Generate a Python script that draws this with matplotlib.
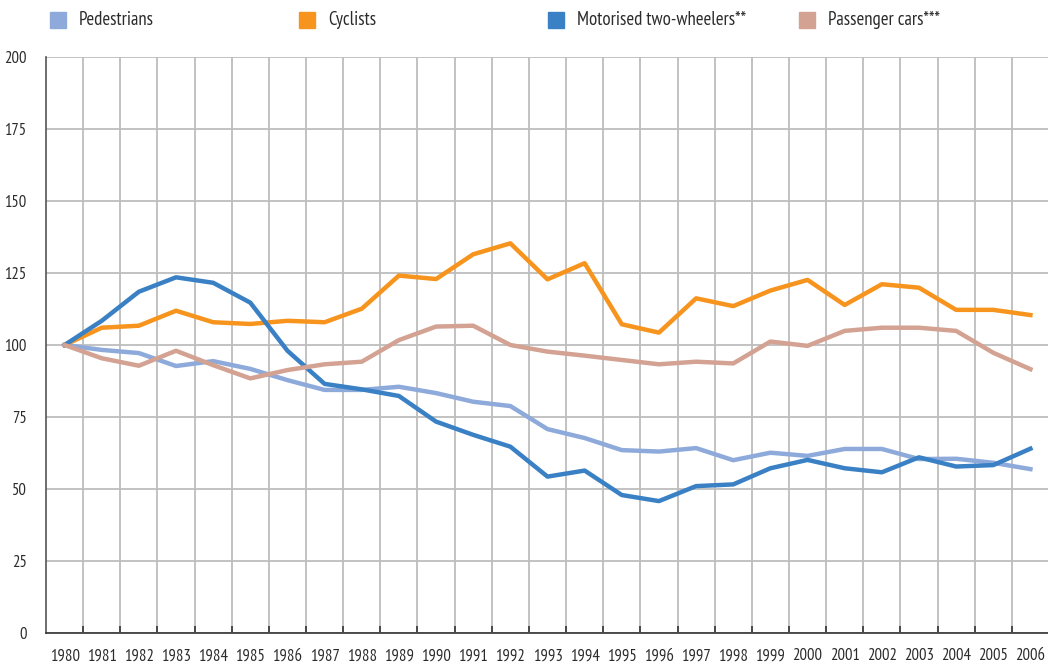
import matplotlib
matplotlib.use("Agg")
import matplotlib.pyplot as plt
from matplotlib.patches import Rectangle
import numpy as np

# -----------------------
# Data (index, 1980 = 100)
# -----------------------
years = [str(y) for y in range(1980, 2007)]

pedestrians = [100, 98.3, 97.2, 92.7, 94.4, 91.7, 87.8, 84.4, 84.4, 85.5,
               83.3, 80.3, 78.8, 70.8, 67.7, 63.5, 63.0, 64.2, 60.0, 62.6,
               61.5, 63.9, 63.9, 60.4, 60.5, 59.1, 56.9]
cyclists = [100, 106.0, 106.7, 111.9, 107.9, 107.3, 108.4, 107.9, 112.6, 124.1,
            122.9, 131.5, 135.3, 122.8, 128.4, 107.2, 104.3, 116.2, 113.5, 118.9,
            122.6, 113.9, 121.1, 119.9, 112.2, 112.2, 110.4]
motorised = [100, 108.4, 118.5, 123.5, 121.6, 114.7, 98.0, 86.5, 84.6, 82.3,
             73.4, 68.8, 64.7, 54.3, 56.4, 47.9, 45.8, 51.0, 51.6, 57.2,
             60.1, 57.2, 55.8, 61.0, 57.8, 58.3, 64.0]
cars = [100, 95.4, 92.8, 98.0, 93.0, 88.4, 91.3, 93.3, 94.2, 101.7,
        106.4, 106.7, 100.0, 97.7, 96.3, 94.8, 93.3, 94.2, 93.6, 101.2,
        99.7, 104.9, 106.0, 106.0, 104.9, 97.3, 91.6]

labels = ["Pedestrians", "Cyclists", "Motorised two-wheelers**", "Passenger cars***"]
series = [pedestrians, cyclists, motorised, cars]

# -----------------------
# Style
# -----------------------
COLORS = ["#8EAADB", "#F7941D", "#3A80C4", "#D3A292"]
GRID = "#bdbdbd"
TEXT = "#2b2b2b"
plt.rcParams["font.family"] = ["PT Sans Narrow", "Liberation Sans Narrow", "DejaVu Sans"]
plt.rcParams["font.stretch"] = "condensed"

W, H = 1048, 669
fig = plt.figure(figsize=(W / 100, H / 100), dpi=100)
ax = fig.add_axes([46 / W, (H - 633) / H, 1003 / W, (633 - 57) / H])

x = np.arange(len(years))
for vals, col, lab in zip(series, COLORS, labels):
    ax.plot(x, vals, color=col, lw=3.2, label=lab, zorder=3)

ax.set_xlim(-0.5, len(years) - 0.5)
ax.set_ylim(0, 200)
ax.set_yticks(np.arange(0, 201, 25))
ax.set_xticks(x)
ax.set_xticklabels(years)
ax.set_xticks(x[:-1] + 0.5, minor=True)

ax.grid(axis="y", color=GRID, lw=1.3, zorder=0)
for gx in x[:-1] + 0.5:
    ax.axvline(gx, color=GRID, lw=1.3, zorder=0)

for s in ["top", "right"]:
    ax.spines[s].set_visible(False)
ax.spines["left"].set_color("#555555")
ax.spines["bottom"].set_color("#333333")
ax.spines["left"].set_linewidth(1.2)
ax.spines["bottom"].set_linewidth(1.2)

ax.tick_params(axis="y", length=0, pad=14, labelsize=12, labelcolor=TEXT)
ax.tick_params(axis="x", which="major", length=0, pad=11, labelsize=12, labelcolor=TEXT)
ax.tick_params(axis="x", which="minor", direction="in", length=5, width=1.2, color="#333333")

# Legend across the top
leg_sq_x = [50, 299, 548, 799]
for lx, col, lab in zip(leg_sq_x, COLORS, labels):
    fig.patches.append(Rectangle((lx / W, 1 - 28 / H), 16 / W, 16 / H,
                                 transform=fig.transFigure, color=col))
    fig.text((lx + 29) / W, 1 - 20 / H, lab, fontsize=13.5, color=TEXT,
             va="center", ha="left")

fig.savefig("out.png", dpi=100)
